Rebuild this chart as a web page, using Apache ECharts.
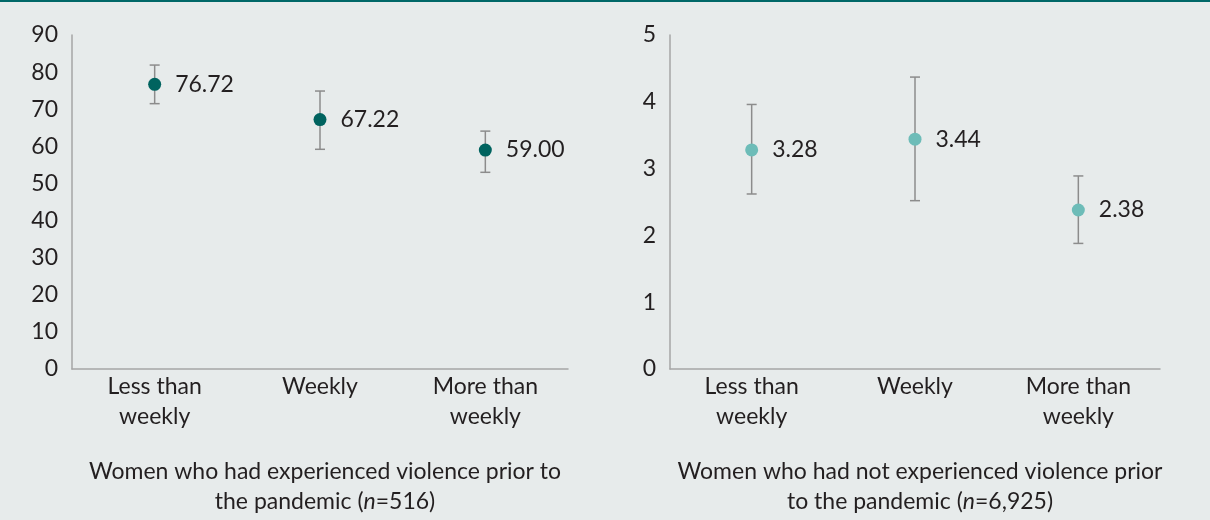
<!DOCTYPE html>
<html>
<head>
<meta charset="utf-8">
<script src="https://cdn.jsdelivr.net/npm/echarts@6/dist/echarts.min.js"></script>
<style>
  html, body { margin: 0; padding: 0; background: #e7ebeb; }
  #main { width: 1210px; height: 520px; }
</style>
</head>
<body>
<div id="main"></div>
<script>
var categories = ['Less than\nweekly', 'Weekly', 'More than\nweekly'];

// women who had experienced violence prior to the pandemic (n=516)
var prior = [76.72, 67.22, 59.00];
var priorLow = [71.5, 59.2, 53.0];
var priorHigh = [81.9, 74.9, 64.1];

// women who had not experienced violence prior to the pandemic (n=6,925)
var noPrior = [3.28, 3.44, 2.38];
var noPriorLow = [2.62, 2.52, 1.88];
var noPriorHigh = [3.96, 4.37, 2.89];

var font = 'Lato, "Noto Sans", sans-serif';
var fontSize = 23;
var textColor = '#231f20';
var axisColor = '#a6a6a6';

var chartDom = document.getElementById('main');
var myChart = echarts.init(chartDom);
var option;

function errorData(low, high) {
  return low.map(function (v, i) { return [i, v, high[i]]; });
}

function renderErrorBar(params, api) {
  var i = api.value(0);
  var hi = api.coord([i, api.value(2)]);
  var lo = api.coord([i, api.value(1)]);
  var w = 5;
  var style = { stroke: '#8c8c8c', lineWidth: 1.5 };
  return {
    type: 'group',
    children: [
      { type: 'line', shape: { x1: hi[0], y1: hi[1], x2: lo[0], y2: lo[1] }, style: style },
      { type: 'line', shape: { x1: hi[0] - w, y1: hi[1], x2: hi[0] + w, y2: hi[1] }, style: style },
      { type: 'line', shape: { x1: lo[0] - w, y1: lo[1], x2: lo[0] + w, y2: lo[1] }, style: style }
    ]
  };
}

function caption(line1, line2a, line2b) {
  return '{a|' + line1 + '}\n{a|' + line2a + '}{i|n}{a|' + line2b + '}';
}

var captionRich = {
  a: { fontFamily: font, fontSize: fontSize, fontWeight: 'normal', color: textColor, lineHeight: 30 },
  i: { fontFamily: font, fontSize: fontSize, fontWeight: 'normal', color: textColor, lineHeight: 30, fontStyle: 'italic' }
};

function xAxisFor(gridIndex) {
  return {
    type: 'category',
    gridIndex: gridIndex,
    data: categories,
    axisLine: { lineStyle: { color: axisColor, width: 1.5 } },
    axisTick: { show: false },
    axisLabel: { fontFamily: font, fontSize: fontSize, color: textColor, lineHeight: 30, margin: 3, interval: 0 }
  };
}

function yAxisFor(gridIndex, max, interval) {
  return {
    type: 'value',
    gridIndex: gridIndex,
    min: 0,
    max: max,
    interval: interval,
    splitLine: { show: false },
    axisTick: { show: false },
    axisLine: { show: true, lineStyle: { color: axisColor, width: 1.5 } },
    axisLabel: { fontFamily: font, fontSize: fontSize, color: textColor, margin: 14 }
  };
}

function pointLabel() {
  return {
    show: true,
    position: 'right',
    distance: 14,
    fontFamily: font,
    fontSize: fontSize,
    color: textColor,
    formatter: function (p) { return p.value.toFixed(2); }
  };
}

option = {
  animation: false,
  backgroundColor: '#e7ebeb',
  graphic: [
    { type: 'rect', shape: { x: 0, y: 0, width: 1210, height: 2 }, style: { fill: '#006868' } }
  ],
  title: [
    {
      text: caption('Women who had experienced violence prior to', 'the pandemic (', '=516)'),
      left: 320, top: 452, textAlign: 'center',
      textStyle: { fontWeight: 'normal', rich: captionRich }
    },
    {
      text: caption('Women who had not experienced violence prior', 'to the pandemic (', '=6,925)'),
      left: 915, top: 452, textAlign: 'center',
      textStyle: { fontWeight: 'normal', rich: captionRich }
    }
  ],
  grid: [
    { left: 72, top: 35, width: 496, height: 334 },
    { left: 670, top: 35, width: 490, height: 334 }
  ],
  xAxis: [xAxisFor(0), xAxisFor(1)],
  yAxis: [yAxisFor(0, 90, 10), yAxisFor(1, 5, 1)],
  series: [
    {
      type: 'custom',
      xAxisIndex: 0, yAxisIndex: 0,
      renderItem: renderErrorBar,
      data: errorData(priorLow, priorHigh),
      z: 1
    },
    {
      type: 'scatter',
      xAxisIndex: 0, yAxisIndex: 0,
      symbolSize: 13,
      itemStyle: { color: '#00635f', opacity: 1 },
      label: pointLabel(),
      data: prior,
      z: 3
    },
    {
      type: 'custom',
      xAxisIndex: 1, yAxisIndex: 1,
      renderItem: renderErrorBar,
      data: errorData(noPriorLow, noPriorHigh),
      z: 1
    },
    {
      type: 'scatter',
      xAxisIndex: 1, yAxisIndex: 1,
      symbolSize: 13,
      itemStyle: { color: '#6dbcb8', opacity: 1 },
      label: pointLabel(),
      data: noPrior,
      z: 3
    }
  ]
};

option && myChart.setOption(option);
</script>
</body>
</html>
